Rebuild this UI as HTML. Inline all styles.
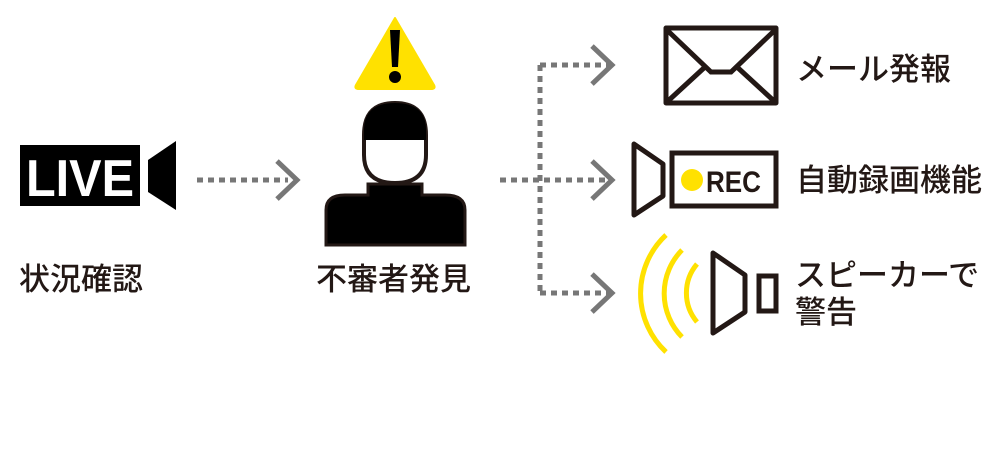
<!DOCTYPE html>
<html><head><meta charset="utf-8"><style>
body{margin:0;background:#fff;width:1000px;height:450px;overflow:hidden;position:relative;font-family:"Liberation Sans","Noto Sans CJK JP",sans-serif}
.t{position:absolute;font-size:31px;color:#231815;white-space:nowrap;line-height:1;font-weight:500}
</style></head><body>
<svg width="1000" height="450" style="position:absolute;left:0;top:0">
<rect x="20" y="145" width="120" height="61" fill="#000"/>
<text x="26" y="196" font-family="Liberation Sans" font-size="52" font-weight="bold" fill="#fff" textLength="108" lengthAdjust="spacingAndGlyphs">LIVE</text>
<polygon points="148,160 176,141 176,210 148,192" fill="#000"/>
<line x1="197" y1="180" x2="288" y2="180" stroke="#777" stroke-width="5" stroke-dasharray="6,5"/>
<polyline points="277,161 297,180 277,199" fill="none" stroke="#777" stroke-width="5"/>
<path d="M395,18 L434,85 Q436,89 431,89 L359,89 Q354,89 356,85 Z" fill="#ffe100" stroke="#ffe100" stroke-width="2" stroke-linejoin="round"/>
<path d="M390,30 L400,30 L398,67 L392,67 Z" fill="#000"/>
<circle cx="395" cy="77" r="6" fill="#000"/>
<path d="M326,245 L326,210 Q326,195 345,195 L368,195 L368,184 L422,184 L422,195 L445,195 Q465,195 465,210 L465,245 Z" fill="#000" stroke="#231815" stroke-width="3"/>
<path d="M364,135 L364,155 Q364,183 395,183 Q426,183 426,155 L426,135 Q426,103 395,103 Q364,103 364,135 Z" fill="#fff" stroke="#231815" stroke-width="4"/>
<path d="M364,140 L364,130 Q364,103 395,103 Q426,103 426,130 L426,140 Z" fill="#000"/>
<line x1="500" y1="180" x2="610" y2="180" stroke="#777" stroke-width="5" stroke-dasharray="6,5"/>
<line x1="540" y1="65" x2="540" y2="295" stroke="#777" stroke-width="5" stroke-dasharray="6,5"/>
<line x1="540" y1="65" x2="610" y2="65" stroke="#777" stroke-width="5" stroke-dasharray="6,5"/>
<line x1="540" y1="293" x2="610" y2="293" stroke="#777" stroke-width="5" stroke-dasharray="6,5"/>
<polyline points="592,46 612,65 592,84" fill="none" stroke="#777" stroke-width="5"/>
<polyline points="592,161 612,180 592,199" fill="none" stroke="#777" stroke-width="5"/>
<polyline points="592,274 612,293 592,312" fill="none" stroke="#777" stroke-width="5"/>
<rect x="666" y="28" width="110" height="75" fill="none" stroke="#231815" stroke-width="5" stroke-linejoin="round"/>
<polyline points="668,31 711,72 731,72 774,31" fill="none" stroke="#231815" stroke-width="5"/>
<line x1="705" y1="67" x2="668" y2="101" stroke="#231815" stroke-width="5"/>
<line x1="737" y1="67" x2="774" y2="101" stroke="#231815" stroke-width="5"/>
<polygon points="634,144 663,164 663,196 634,215" fill="none" stroke="#231815" stroke-width="5" stroke-linejoin="round"/>
<rect x="672" y="153" width="104" height="53" fill="none" stroke="#231815" stroke-width="5"/>
<circle cx="692" cy="180" r="11" fill="#ffe100"/>
<text x="706" y="192" font-family="Liberation Sans" font-size="30" font-weight="bold" fill="#231815" textLength="55" lengthAdjust="spacingAndGlyphs">REC</text>
<path d="M666,235 A80,80 0 0 0 666,352" fill="none" stroke="#ffe100" stroke-width="5"/>
<path d="M682,250 A62,62 0 0 0 682,337" fill="none" stroke="#ffe100" stroke-width="5"/>
<path d="M697,264 A45,45 0 0 0 697,322" fill="none" stroke="#ffe100" stroke-width="5"/>
<polygon points="713,253 745,275 745,312 713,333" fill="none" stroke="#231815" stroke-width="5" stroke-linejoin="round"/>
<rect x="759" y="276" width="17" height="35" fill="none" stroke="#231815" stroke-width="5"/>
</svg>
<div class="t" style="left:19px;top:264px">状況確認</div>
<div class="t" style="left:316px;top:264px">不審者発見</div>
<div class="t" style="left:796px;top:54px">メール発報</div>
<div class="t" style="left:796px;top:165px">自動録画機能</div>
<div class="t" style="left:795px;top:260px">スピーカーで</div>
<div class="t" style="left:795px;top:297px">警告</div>
</body></html>
